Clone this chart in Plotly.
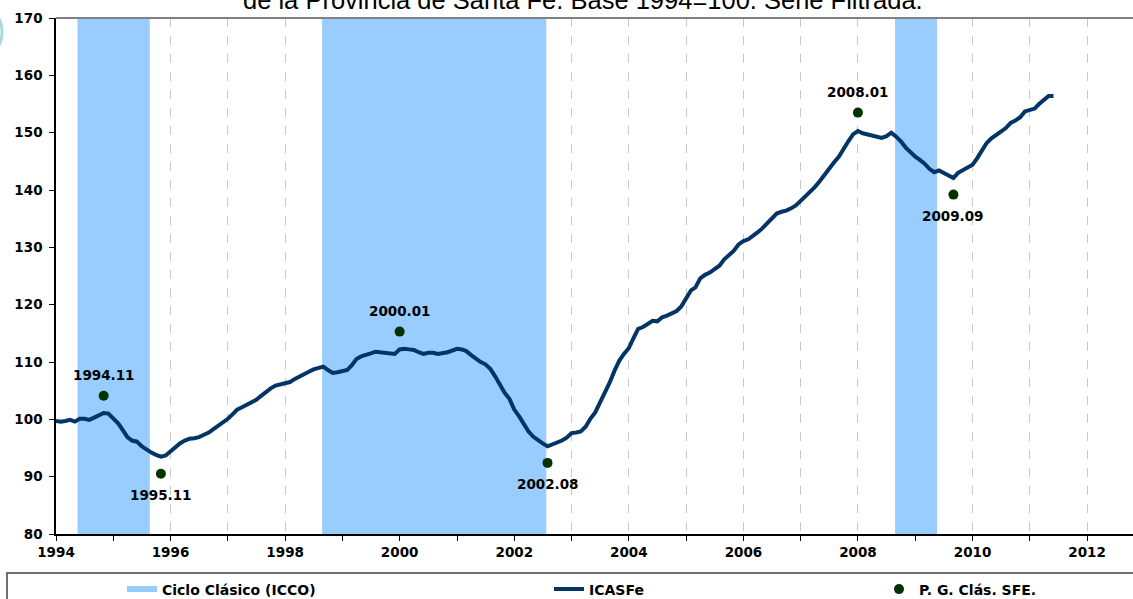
import pandas as pd
import plotly.graph_objects as go

# ICASFe, monthly from Jan 1994
icasfe = [
    99.7, 99.6, 99.7, 99.9, 99.6, 100.1, 100.1, 99.9, 100.3, 100.7, 101.1, 101.0,      # 1994
    100.2, 99.3, 98.2, 96.9, 96.3, 96.1, 95.3, 94.7, 94.2, 93.8, 93.5, 93.7,           # 1995
    94.4, 95.2, 95.8, 96.3, 96.6, 96.7, 96.9, 97.3, 97.7, 98.3, 98.9, 99.5,            # 1996
    100.1, 100.9, 101.7, 102.1, 102.5, 102.9, 103.4, 104.1, 104.8, 105.4, 105.9, 106.1,  # 1997
    106.2, 106.5, 107.0, 107.5, 108.0, 108.3, 108.7, 108.9, 109.2, 108.6, 108.1, 108.2,  # 1998
    108.4, 108.6, 109.4, 110.5, 111.0, 111.2, 111.5, 111.8, 111.7, 111.7, 111.6, 111.4,  # 1999
    112.2, 112.3, 112.2, 112.1, 111.7, 111.4, 111.6, 111.6, 111.4, 111.5, 111.7, 112.0,  # 2000
    112.3, 112.2, 111.9, 111.2, 110.5, 110.0, 109.6, 108.8, 107.5, 105.9, 104.6, 103.6,  # 2001
    101.7, 100.5, 99.3, 97.9, 97.0, 96.3, 95.8, 95.3, 95.6, 96.0, 96.3, 96.8,          # 2002
    97.6, 97.7, 97.9, 98.7, 100.1, 101.2, 102.8, 104.5, 106.4, 108.4, 110.2, 111.4,    # 2003
    112.4, 114.2, 115.8, 116.1, 116.6, 117.2, 117.1, 117.8, 118.1, 118.5, 118.9, 119.7,  # 2004
    121.2, 122.5, 123.0, 124.6, 125.2, 125.6, 126.2, 126.8, 127.9, 128.7, 129.4, 130.5,  # 2005
    131.1, 131.4, 131.9, 132.6, 133.3, 134.1, 135.0, 135.9, 136.2, 136.4, 136.8, 137.3,  # 2006
    138.1, 138.9, 139.6, 140.5, 141.5, 142.7, 143.8, 144.8, 145.8, 147.3, 148.5, 149.7,  # 2007
    150.3, 149.9, 149.7, 149.5, 149.4, 149.1, 149.4, 150.0, 149.3, 148.5, 147.4, 146.5,  # 2008
    145.8, 145.2, 144.6, 143.7, 143.1, 143.4, 143.0, 142.4, 142.1, 143.0, 143.5, 143.8,  # 2009
    144.4, 145.6, 147.0, 148.2, 149.0, 149.7, 150.2, 150.8, 151.7, 152.1, 152.7, 153.7,  # 2010
    153.9, 154.2, 155.0, 155.8, 156.4, 156.4,                                          # 2011
]
months = pd.date_range("1994-01-01", periods=len(icasfe), freq="MS")

# Ciclo clasico (ICCO) - shaded periods
cycle_start = ["1994-05-18", "1998-08-25", "2008-08-25"]
cycle_end = ["1995-08-22", "2002-07-24", "2009-05-20"]

# puntos de giro clasicos SFE
tp_labels = ["1994.11", "1995.11", "2000.01", "2002.08", "2008.01", "2009.09"]
tp_values = [104.1, 90.5, 115.3, 92.4, 153.5, 139.2]
tp_side = [1, -1, 1, -1, 1, -1]   # label above (1) or below (-1)

y_min, y_max = 80, 170

bold = dict(family="DejaVu Sans", size=13.5, color="black", weight="bold")

# band polygons, one closed segment per cycle
band_x, band_y = [], []
for s, e in zip(cycle_start, cycle_end):
    band_x += [s, s, e, e, s, None]
    band_y += [y_min, y_max, y_max, y_min, y_min, None]

tp_dates = pd.to_datetime(tp_labels, format="%Y.%m")

fig = go.Figure()
fig.add_trace(go.Scatter(x=band_x, y=band_y, fill="toself", mode="none",
                         fillcolor="#99ccff", name="Ciclo Clásico (ICCO)",
                         hoverinfo="skip", legend="legend"))
fig.add_trace(go.Scatter(x=months, y=icasfe, mode="lines", name="ICASFe",
                         line=dict(color="#023466", width=4), legend="legend2"))
fig.add_trace(go.Scatter(x=tp_dates, y=tp_values, mode="markers",
                         name="P. G. Clás. SFE.",
                         marker=dict(color="#003300", size=10), legend="legend3"))

for d, v, lab, side in zip(tp_dates, tp_values, tp_labels, tp_side):
    fig.add_annotation(x=d, y=v, text=lab, showarrow=False, yshift=21 * side,
                       font=bold)

# legend positions (pixel -> paper), plot area 56..1133 x 18..534
W, H = 1077, 516
def px(p):
    return (p - 56) / W

leg_y = (534 - 589.5) / H
leg_common = dict(orientation="h", y=leg_y, yanchor="middle", xanchor="left",
                  bgcolor="rgba(0,0,0,0)", borderwidth=0,
                  font=dict(family="DejaVu Sans", size=14, color="black", weight="bold"))

fig.update_layout(
    width=1133, height=599,
    margin=dict(l=56, r=0, t=18, b=65, autoexpand=False),
    plot_bgcolor="white", paper_bgcolor="white",
    legend=dict(x=px(122), **leg_common),
    legend2=dict(x=px(549), **leg_common),
    legend3=dict(x=px(879), **leg_common),
    xaxis=dict(type="date", range=["1994-01-01", "2012-10-20"],
               tick0="1994-01-01", dtick="M24", tickformat="%Y",
               tickprefix="<b>", ticksuffix="</b>",
               ticks="outside", ticklen=5, tickcolor="black",
               showline=True, linecolor="black", linewidth=1.5,
               showgrid=True, gridcolor="#c8c8c8", griddash="dash", gridwidth=1,
               minor=dict(dtick="M12", ticks="outside", ticklen=5, tickcolor="black",
                          showgrid=True, gridcolor="#c8c8c8", griddash="dash"),
               tickfont=bold, zeroline=False, automargin=False),
    yaxis=dict(range=[y_min, y_max], dtick=10, ticks="outside", ticklen=5,
               tickprefix="<b>", ticksuffix="</b>",
               tickcolor="black", showline=True, linecolor="black", linewidth=1.5,
               showgrid=False, zeroline=False, tickfont=bold, ticklabelstandoff=4,
               automargin=False),
    showlegend=True,
)

# top border of the plot area and legend frame
fig.add_shape(type="line", xref="paper", yref="paper", x0=0, x1=1, y0=1, y1=1,
              line=dict(color="#808080", width=2))
fig.add_shape(type="rect", xref="paper", yref="paper",
              x0=px(7), x1=1.02, y0=(534 - 573) / H, y1=-0.2,
              line=dict(color="#404040", width=1.5))
# bit of the logo peeking in at the left
fig.add_shape(type="circle", xref="paper", yref="paper",
              x0=px(-60), x1=px(2), y0=(534 - 2) / H, y1=(534 - 62) / H,
              line=dict(color="#a8dada", width=3))

# title (first line is off the top of the picture)
fig.add_annotation(text="de la Provincia de Santa Fe. Base 1994=100. Serie Filtrada.",
                   xref="paper", yref="paper", x=px(582.5), y=(534 - 16) / H,
                   xanchor="center", yanchor="bottom", showarrow=False,
                   font=dict(family="Liberation Sans", size=25.5, color="black"))

# page has a default 8px body margin; drop it so the figure sits at 0,0
fig.write_html("out.html", config={"displayModeBar": False},
               post_script="document.body.style.margin='0';document.body.style.overflow='hidden';")
